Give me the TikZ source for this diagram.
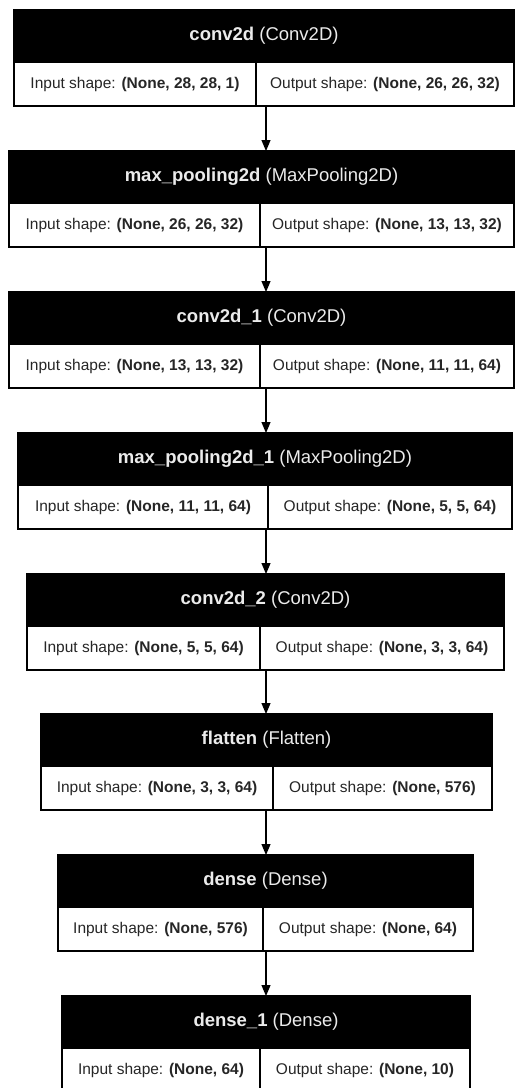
\documentclass[tikz,border=0pt]{standalone}
\usepackage{fontspec}
\setmainfont{Liberation Sans}
\usetikzlibrary{arrows.meta}

\tikzset{
  head/.style={fill=black, draw=black, line width=1.5pt, text=white!92!black, inner sep=0pt, outer sep=0pt,
    minimum height=52, anchor=north west, font=\fontsize{18.5}{21}\selectfont},
  cell/.style={fill=white, draw=black, line width=1.5pt, text=black!85, inner sep=0pt, outer sep=0pt,
    minimum height=44, anchor=north west, font=\fontsize{15.5}{18}\selectfont},
  flow/.style={-{Triangle[length=11pt,width=9pt]}, line width=1.2pt},
}

\begin{document}
\begin{tikzpicture}[x=1pt,y=-1pt]
  \useasboundingbox (0,0) rectangle (515,1088);
  \clip (0,0) rectangle (515,1088);
  % name, top, left, divider, right, layer, type, input, output
  \def\layer#1#2#3#4#5#6#7#8#9{
    \node[head, minimum width=#5-#3] (#1) at (#3,#2) {\textbf{#6} (#7)};
    \node[cell, minimum width=#4-#3] (#1-in) at (#1.south west) {Input shape: \textbf{#8}};
    \node[cell, minimum width=#5-#4] (#1-out) at (#1-in.north east) {Output shape: \textbf{#9}};
  }
  \layer{c1}{10}{14}{256}{514}{conv2d}{Conv2D}{(None, 28, 28, 1)}{(None, 26, 26, 32)}
  \layer{p1}{151}{9}{260}{514}{max\_pooling2d}{MaxPooling2D}{(None, 26, 26, 32)}{(None, 13, 13, 32)}
  \layer{c2}{292}{9}{260}{514}{conv2d\_1}{Conv2D}{(None, 13, 13, 32)}{(None, 11, 11, 64)}
  \layer{p2}{433}{18}{268}{512}{max\_pooling2d\_1}{MaxPooling2D}{(None, 11, 11, 64)}{(None, 5, 5, 64)}
  \layer{c3}{574}{27}{260}{504}{conv2d\_2}{Conv2D}{(None, 5, 5, 64)}{(None, 3, 3, 64)}
  \layer{fl}{714}{41}{273}{492}{flatten}{Flatten}{(None, 3, 3, 64)}{(None, 576)}
  \layer{d1}{855}{58}{263}{473}{dense}{Dense}{(None, 576)}{(None, 64)}
  \layer{d2}{996}{62}{260}{470}{dense\_1}{Dense}{(None, 64)}{(None, 10)}

  % arrows down the middle
  \coordinate (axis) at (266,0);
  \draw[flow] (c1-in.south -| axis) -- (p1.north -| axis);
  \draw[flow] (p1-in.south -| axis) -- (c2.north -| axis);
  \draw[flow] (c2-in.south -| axis) -- (p2.north -| axis);
  \draw[flow] (p2-in.south -| axis) -- (c3.north -| axis);
  \draw[flow] (c3-in.south -| axis) -- (fl.north -| axis);
  \draw[flow] (fl-in.south -| axis) -- (d1.north -| axis);
  \draw[flow] (d1-in.south -| axis) -- (d2.north -| axis);
\end{tikzpicture}
\end{document}
